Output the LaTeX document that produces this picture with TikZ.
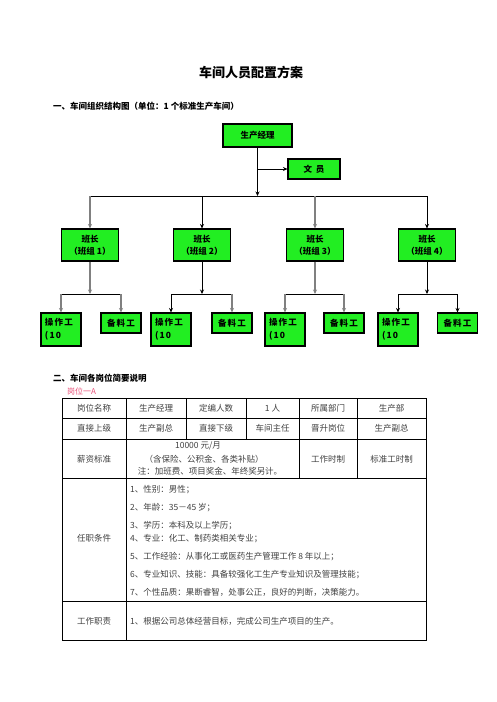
\documentclass[tikz,border=0pt]{standalone}
\usepackage{fontspec}
\newfontfamily\cjk{Noto Sans CJK SC}
\usetikzlibrary{arrows.meta,shadows}
\definecolor{boxgreen}{RGB}{34,238,34}
\definecolor{postpink}{RGB}{232,80,120}
\tikzset{
  box/.style={draw, line width=1.1pt, fill=boxgreen, inner sep=0pt, align=center,
    drop shadow={shadow xshift=0.9pt, shadow yshift=-0.9pt, fill=black, opacity=1},
    font=\cjk\bfseries\fontsize{8.5}{12}\selectfont},
  workbox/.style={box, font=\cjk\bfseries\fontsize{8.5}{13}\selectfont\addfontfeature{LetterSpace=14}},
  link/.style={line width=0.7pt, -{Stealth[length=4.5pt,width=4pt]}},
  greylink/.style={link, draw=black!50, line width=1.6pt},
  cell/.style={font=\cjk\fontsize{8.5}{11}\selectfont, text=black!75, inner sep=0pt},
}
\begin{document}
\begin{tikzpicture}[x=1pt, y=-1pt]
\useasboundingbox (0,0) rectangle (496,702);

\node [font=\cjk\bfseries\fontsize{13}{15}\selectfont] (title) at (251,73) {车间人员配置方案};
\node [anchor=west, font=\cjk\bfseries\fontsize{8.5}{10}\selectfont, inner sep=0pt] (head1) at (53,106) {一、车间组织结构图（单位：1 个标准生产车间）};

% boxes
\node [box, minimum width=69, minimum height=23] (m) at (257.5,135.5) {生产经理};
\node [box, minimum width=52, minimum height=20] (w) at (314,169) {文\ \ 员};

\node [box, minimum width=57, minimum height=32] (b1) at (90,245) {班长\\（班组 1）};
\node [box, minimum width=57, minimum height=32] (b2) at (202,245) {班长\\（班组 2）};
\node [box, minimum width=57, minimum height=32] (b3) at (315,245) {班长\\（班组 3）};
\node [box, minimum width=57, minimum height=32] (b4) at (427,245) {班长\\（班组 4）};

\node [workbox, minimum width=40, minimum height=33, text width=32, align=left] (o1) at (61,329.5) {操作工\\(10};
\node [workbox, minimum width=40, minimum height=20] (r1) at (121,323) {备料工};
\node [workbox, minimum width=40, minimum height=33, text width=32, align=left] (o2) at (171,329.5) {操作工\\(10};
\node [workbox, minimum width=40, minimum height=20] (r2) at (232,323) {备料工};
\node [workbox, minimum width=40, minimum height=33, text width=32, align=left] (o3) at (285,329.5) {操作工\\(10};
\node [workbox, minimum width=40, minimum height=20] (r3) at (344,323) {备料工};
\node [workbox, minimum width=40, minimum height=33, text width=32, align=left] (o4) at (398,329.5) {操作工\\(10};
\node [workbox, minimum width=40, minimum height=20] (r4) at (457.5,323) {备料工};

\coordinate (bus) at (257.5,196);
\coordinate (s1) at (90,294);
\coordinate (s2) at (202,294);
\coordinate (s3) at (315,294);
\coordinate (s4) at (427,294);

% connectors
\draw [link] (m.south) -- (bus);
\draw [link] (m.south |- w.west) -- (w.west);
\draw [line width=0.7pt] (b1.north |- bus) -- (b4.north |- bus);
\draw [greylink] (b1.north |- bus) -- (b1.north);
\draw [link] (b2.north |- bus) -- (b2.north);
\draw [greylink] (b3.north |- bus) -- (b3.north);
\draw [link] (b4.north |- bus) -- (b4.north);

\draw [greylink] (b1.south) -- (s1);
\draw [line width=0.7pt] (o1.north |- s1) -- (r1.north |- s1);
\draw [greylink] (o1.north |- s1) -- (o1.north);
\draw [greylink] (r1.north |- s1) -- (r1.north);

\draw [link] (b2.south) -- (s2);
\draw [line width=0.7pt] (o2.north |- s2) -- (r2.north |- s2);
\draw [link] (o2.north |- s2) -- (o2.north);
\draw [greylink] (r2.north |- s2) -- (r2.north);

\draw [greylink] (b3.south) -- (s3);
\draw [line width=0.7pt] (o3.north |- s3) -- (r3.north |- s3);
\draw [greylink] (o3.north |- s3) -- (o3.north);
\draw [greylink] (r3.north |- s3) -- (r3.north);

\draw [link] (b4.south) -- (s4);
\draw [line width=0.7pt] (o4.north |- s4) -- (r4.north |- s4);
\draw [link] (o4.north |- s4) -- (o4.north);
\draw [link] (r4.north |- s4) -- (r4.north);

% part two
\node [anchor=west, font=\cjk\bfseries\fontsize{8.5}{10}\selectfont, inner sep=0pt] (head2) at (53,378) {二、车间各岗位简要说明};
\node [anchor=west, font=\cjk\fontsize{8}{10}\selectfont, text=postpink, inner sep=0pt] (post) at (67,391) {岗位一A};

% table
\draw [line width=0.9pt] (62,398) rectangle (426,640);
\draw [line width=0.9pt] (62,418) -- (426,418);
\draw [line width=0.9pt] (62,439) -- (426,439);
\draw [line width=0.9pt] (62,478) -- (426,478);
\draw [line width=0.9pt] (62,601) -- (426,601);
\draw [line width=0.9pt] (126,398) -- (126,640);
\draw [line width=0.9pt] (186,398) -- (186,439);
\draw [line width=0.9pt] (246,398) -- (246,439);
\draw [line width=0.9pt] (299,398) -- (299,478);
\draw [line width=0.9pt] (357,398) -- (357,478);

\node [cell] (c11) at (94,408) {岗位名称};
\node [cell] (c12) at (156,408) {生产经理};
\node [cell] (c13) at (216,408) {定编人数};
\node [cell] (c14) at (272.5,408) {1 人};
\node [cell] (c15) at (328,408) {所属部门};
\node [cell] (c16) at (391.5,408) {生产部};

\node [cell] (c21) at (94,428.5) {直接上级};
\node [cell] (c22) at (156,428.5) {生产副总};
\node [cell] (c23) at (216,428.5) {直接下级};
\node [cell] (c24) at (272.5,428.5) {车间主任};
\node [cell] (c25) at (328,428.5) {晋升岗位};
\node [cell] (c26) at (391.5,428.5) {生产副总};

\node [cell] (c31) at (94,459) {薪资标准};
\node [cell] (c32a) at (198,446) {10000 元/月};
\node [cell] (c32b) at (204,459) {（含保险、公积金、各类补贴）};
\node [cell] (c32c) at (210,471) {注：加班费、项目奖金、年终奖另计。};
\node [cell] (c33) at (328,459) {工作时制};
\node [cell] (c34) at (391.5,459) {标准工时制};

\node [cell] (c41) at (94,538) {任职条件};
\node [cell, anchor=west] (q1) at (130,490) {1、性别：男性；};
\node [cell, anchor=west] (q2) at (130,508) {2、年龄：35－45 岁；};
\node [cell, anchor=west] (q3) at (130,526) {3、学历：本科及以上学历；};
\node [cell, anchor=west] (q4) at (130,539) {4、专业：化工、制药类相关专业；};
\node [cell, anchor=west] (q5) at (130,557) {5、工作经验：从事化工或医药生产管理工作 8 年以上；};
\node [cell, anchor=west] (q6) at (130,574.5) {6、专业知识、技能：具备较强化工生产专业知识及管理技能；};
\node [cell, anchor=west] (q7) at (130,592) {7、个性品质：果断睿智，处事公正，良好的判断，决策能力。};

\node [cell] (c51) at (94,621) {工作职责};
\node [cell, anchor=west] (d1) at (130,621) {1、根据公司总体经营目标，完成公司生产项目的生产。};

\end{tikzpicture}
\end{document}
